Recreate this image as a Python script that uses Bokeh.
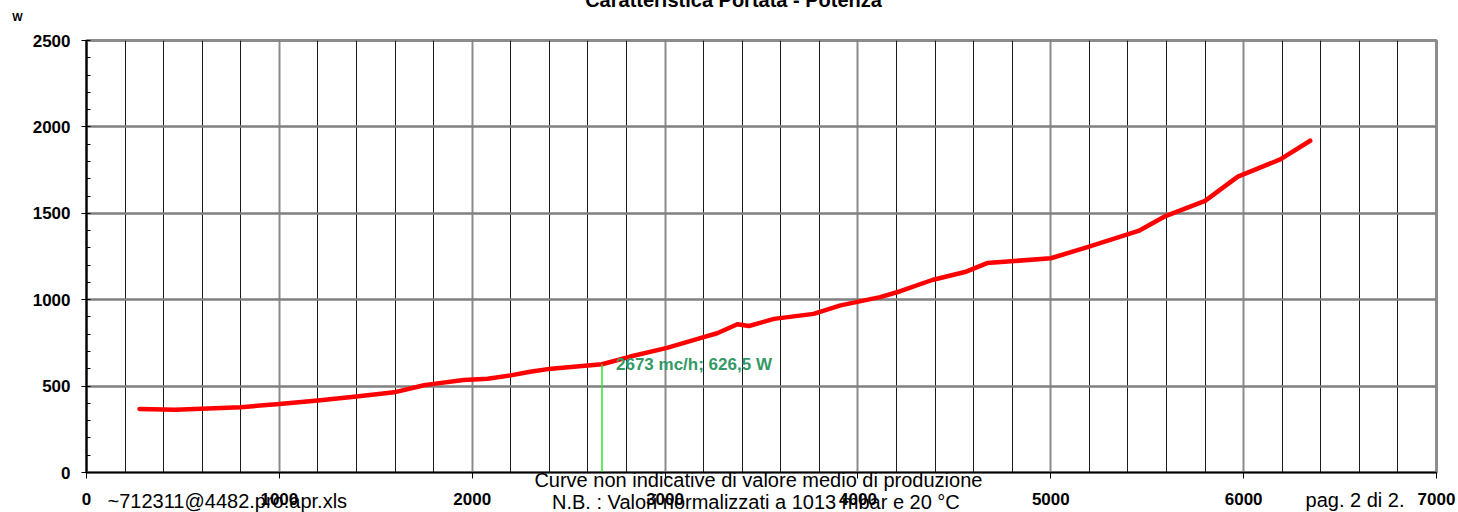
from bokeh.plotting import figure
from bokeh.models import Range1d, SingleIntervalTicker, Label, ColumnDataSource
from bokeh.core.properties import value
from bokeh.embed import file_html
from bokeh.resources import INLINE

# ---- data ----
flow = [275, 460, 800, 1000, 1200, 1400, 1595, 1750, 1800, 1955, 2080, 2200, 2300,
        2410, 2673, 2820, 3010, 3200, 3270, 3375, 3435, 3565, 3770, 3910, 4115, 4220,
        4385, 4555, 4670, 5000, 5190, 5455, 5595, 5800, 5970, 6190, 6345]
power = [368, 363, 378, 396, 416, 440, 464, 505, 513, 535, 543, 562, 583,
         601, 626.5, 671, 721, 783, 806, 858, 848, 889, 918, 967, 1015, 1049,
         1114, 1160, 1212, 1240, 1304, 1398, 1484, 1572, 1712, 1812, 1920]
marker_flow = 2673
marker_power = 626.5
x_max = 7000
y_max = 2500
title_text = "Caratteristica Portata - Potenza"
y_unit = "W"
file_text = "~712311@4482.pro.apr.xls"
note1 = "Curve non indicative di valore medio di produzione"
note2 = "N.B. : Valori normalizzati a 1013 mbar e 20 °C"
page_text = "pag. 2 di 2."
marker_label = f"{marker_flow} mc/h; {str(marker_power).replace('.', ',')} W"

FONT = "Liberation Sans"

p = figure(frame_width=1350, frame_height=432,
           min_border_left=86, min_border_right=20, min_border_top=48, min_border_bottom=40,
           x_range=Range1d(0, x_max), y_range=Range1d(0, y_max),
           output_backend="svg", toolbar_location=None, tools="")
p.styles = {"margin-top": "-8px", "margin-bottom": "-8px"}
p.background_fill_color = "white"
p.border_fill_color = "white"
p.outline_line_color = "#8c8c8c"
p.outline_line_width = 3

# axes
p.xaxis.ticker = SingleIntervalTicker(interval=1000, num_minor_ticks=5)
p.yaxis.ticker = SingleIntervalTicker(interval=500, num_minor_ticks=5)
for ax in (p.xaxis, p.yaxis):
    ax.major_label_text_font = FONT
    ax.major_label_text_font_size = "17px"
    ax.major_label_text_font_style = "bold"
    ax.major_label_text_color = "black"
    ax.axis_line_color = "black"
    ax.major_tick_line_color = "black"
    ax.major_tick_in = 0
p.xaxis.axis_line_width = 1.5
p.xaxis.major_tick_out = 6
p.xaxis.minor_tick_line_color = None
p.xaxis.major_label_standoff = 14
p.yaxis.axis_line_width = 2
p.yaxis.major_tick_out = 5
p.yaxis.minor_tick_in = 4
p.yaxis.minor_tick_out = 0
p.yaxis.minor_tick_line_color = "black"
p.yaxis.major_label_standoff = 11

# grids
p.xgrid.grid_line_color = "#8a8a8a"
p.xgrid.grid_line_width = 2
p.xgrid.minor_grid_line_color = "#1a1a1a"
p.xgrid.minor_grid_line_width = 1
p.ygrid.grid_line_color = "#808080"
p.ygrid.grid_line_width = 2.5

# curve
p.line(flow, power, line_color="#ff0000", line_width=4.5, line_join="round", line_cap="round")

# marker
msrc = ColumnDataSource(dict(x=[marker_flow], y0=[0], y1=[marker_power], t=[marker_label]))
p.segment(x0="x", y0="y0", x1="x", y1="y1", source=msrc, line_color="#2ee62e", line_width=1.5)
p.text(x="x", y="y1", text="t", source=msrc, text_font=value(FONT), text_font_size="17px",
       text_font_style="bold", text_color="#339966", text_baseline="middle", x_offset=14)

# texts outside the frame (placed in side panels so they are not clipped)
def add_label(x, y, text, size, style="normal", align="left", yoff=0, side="below"):
    p.add_layout(Label(x=x, y=y, text=text, text_font=FONT, text_font_size=size,
                       text_font_style=style, text_align=align, text_baseline="middle",
                       y_offset=yoff, text_color="black"), side)

add_label(3355, y_max, title_text, "20px", "bold", "center", 41, "above")
add_label(-358, y_max, y_unit, "11px", "bold", "center", 24, "above")
add_label(109, 0, file_text, "20px", "normal", "left", -28.5)
add_label(3484, 0, note1, "20px", "normal", "center", -7)
add_label(3471, 0, note2, "20px", "normal", "center", -29)
add_label(6321, 0, page_text, "20px", "normal", "left", -27)

open("out.html", "w").write(file_html(p, INLINE))
